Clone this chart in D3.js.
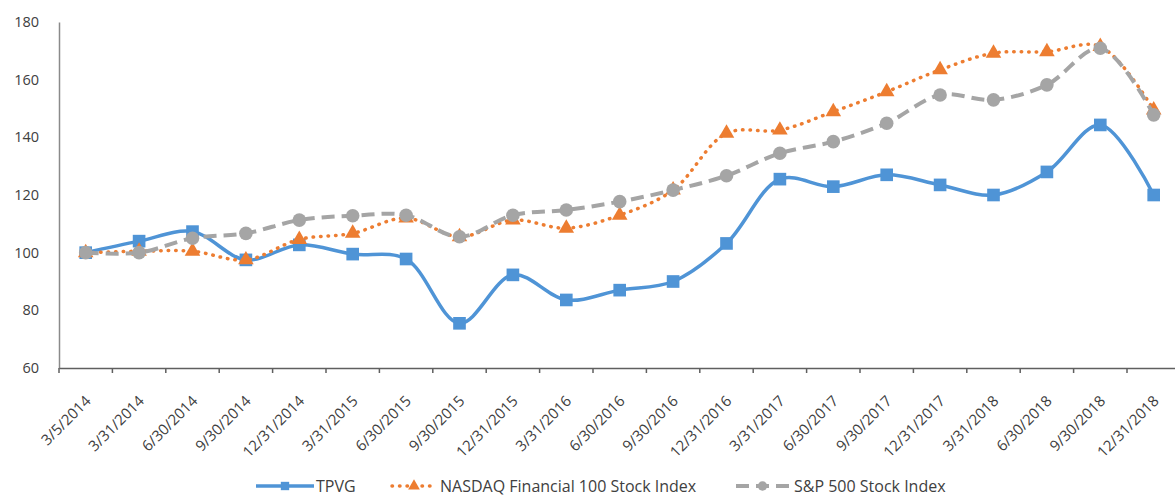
<!DOCTYPE html>
<html>
<head>
<meta charset="utf-8">
<script src="https://cdn.jsdelivr.net/npm/d3@7"></script>
<style>
  body { margin: 0; background: #fff; }
  text { font-family: "Open Sans", "Liberation Sans", sans-serif; fill: #404040; }
</style>
</head>
<body>
<div id="wrapper"></div>
<script>
// data
const dates = [
  "3/5/2014", "3/31/2014", "6/30/2014", "9/30/2014", "12/31/2014",
  "3/31/2015", "6/30/2015", "9/30/2015", "12/31/2015", "3/31/2016",
  "6/30/2016", "9/30/2016", "12/31/2016", "3/31/2017", "6/30/2017",
  "9/30/2017", "12/31/2017", "3/31/2018", "6/30/2018", "9/30/2018",
  "12/31/2018",
]
const tpvg = [100, 104, 107.3, 97.5, 102.7, 99.5, 97.8, 75.5, 92.3, 83.6,
  87, 90, 103.2, 125.5, 122.9, 127, 123.5, 120, 128, 144.3, 120]
const nasdaqFin = [100, 100.5, 100.5, 97.5, 104.6, 106.7, 112, 105.5, 111.3, 108.5,
  113, 121.7, 141.4, 142.5, 148.9, 155.8, 163.4, 169.2, 169.7, 171.5, 149.5]
const sp500 = [100, 100, 105, 106.7, 111.3, 112.8, 113, 105.5, 113, 114.8,
  117.7, 121.7, 126.7, 134.5, 138.5, 144.9, 154.7, 153, 158.2, 170.9, 147.8]
const yTicks = [60, 80, 100, 120, 140, 160, 180]
const seriesNames = ["TPVG", "NASDAQ Financial 100 Stock Index", "S&P 500 Stock Index"]

function drawChart() {
  let dimensions = {
    width: 1175,
    height: 496,
    margin: { top: 22, left: 59, bottom: 128 },
    plotWidth: 1121.4,
  }
  dimensions.boundedHeight = dimensions.height - dimensions.margin.top - dimensions.margin.bottom

  const wrapper = d3.select("#wrapper")
    .append("svg")
      .attr("width", dimensions.width)
      .attr("height", dimensions.height)

  const bounds = wrapper.append("g")
      .attr("transform", `translate(${dimensions.margin.left}, ${dimensions.margin.top})`)

  // scales
  const xScale = d3.scaleBand()
    .domain(dates)
    .range([0, dimensions.plotWidth])

  const yScale = d3.scaleLinear()
    .domain([60, 180])
    .range([dimensions.boundedHeight, 0])

  const xCenter = (d, i) => xScale(dates[i]) + xScale.bandwidth() / 2

  // axes
  const yAxis = bounds.append("g")
    .call(d3.axisLeft(yScale).tickValues(yTicks).tickSize(0).tickPadding(20))
  yAxis.select(".domain").attr("stroke", "#8a8a8a").attr("stroke-width", 1.5)
  yAxis.selectAll("text").style("font-size", "14.5px")

  const xAxis = bounds.append("g")
      .attr("transform", `translate(0, ${dimensions.boundedHeight})`)
    .call(d3.axisBottom(xScale).tickSize(0).tickFormat(""))
  xAxis.select(".domain").attr("stroke", "#5f5f5f").attr("stroke-width", 1.5)

  const tickPositions = dates.map(d => xScale(d)).concat([dimensions.plotWidth])
  xAxis.selectAll(".tick-mark")
    .data(tickPositions)
    .join("line")
      .attr("class", "tick-mark")
      .attr("x1", d => d)
      .attr("x2", d => d)
      .attr("y1", 0)
      .attr("y2", 5)
      .attr("stroke", "#5f5f5f")
      .attr("stroke-width", 1.5)

  xAxis.selectAll(".x-label")
    .data(dates)
    .join("text")
      .attr("class", "x-label")
      .attr("transform", d => `translate(${xScale(d) + xScale.bandwidth() / 2 + 6}, 34) rotate(-45)`)
      .attr("text-anchor", "end")
      .style("font-size", "15px")
      .text(d => d)

  // lines
  const series = [
    { name: seriesNames[0], values: tpvg, color: "#4f94d6", width: 3.5, dash: null, cap: "butt", marker: "square" },
    { name: seriesNames[1], values: nasdaqFin, color: "#ed7d31", width: 3.5, dash: "0.5,7", cap: "round", marker: "triangle" },
    { name: seriesNames[2], values: sp500, color: "#a5a5a5", width: 4, dash: "13,7", cap: "butt", marker: "circle" },
  ]

  const lineGenerator = d3.line()
    .x(xCenter)
    .y(d => yScale(d))
    .curve(d3.curveCatmullRom.alpha(0.5))

  const symbolFor = {
    square: d3.symbol(d3.symbolSquare, 160),
    triangle: d3.symbol(d3.symbolTriangle, 105),
    circle: d3.symbol(d3.symbolCircle, 145),
  }
  const legendSymbolFor = {
    square: d3.symbol(d3.symbolSquare, 70),
    triangle: d3.symbol(d3.symbolTriangle, 60),
    circle: d3.symbol(d3.symbolCircle, 70),
  }

  series.forEach(s => {
    const g = bounds.append("g")
    g.append("path")
        .attr("d", lineGenerator(s.values))
        .attr("fill", "none")
        .attr("stroke", s.color)
        .attr("stroke-width", s.width)
        .attr("stroke-dasharray", s.dash)
        .attr("stroke-linecap", s.cap)
    g.selectAll("path.marker")
      .data(s.values)
      .join("path")
        .attr("class", "marker")
        .attr("d", symbolFor[s.marker])
        .attr("transform", (d, i) => `translate(${xCenter(d, i)}, ${yScale(d)})`)
        .attr("fill", s.color)
  })

  // legend
  const legendItems = [
    { s: series[0], x1: 256, x2: 314, tx: 316 },
    { s: series[1], x1: 392, x2: 436, tx: 440 },
    { s: series[2], x1: 736, x2: 789, tx: 794 },
  ]
  const legend = wrapper.append("g")
      .attr("transform", "translate(0, 486)")
  legendItems.forEach(item => {
    const g = legend.append("g")
    g.append("line")
        .attr("x1", item.x1)
        .attr("x2", item.x2)
        .attr("stroke", item.s.color)
        .attr("stroke-width", item.s.width)
        .attr("stroke-dasharray", item.s.dash)
        .attr("stroke-linecap", item.s.cap)
    g.append("path")
        .attr("d", legendSymbolFor[item.s.marker])
        .attr("transform", `translate(${(item.x1 + item.x2) / 2}, 0)`)
        .attr("fill", item.s.color)
    g.append("text")
        .attr("x", item.tx)
        .attr("dy", "0.35em")
        .style("font-size", "16px")
        .text(item.s.name)
  })
}
drawChart()
</script>
</body>
</html>
